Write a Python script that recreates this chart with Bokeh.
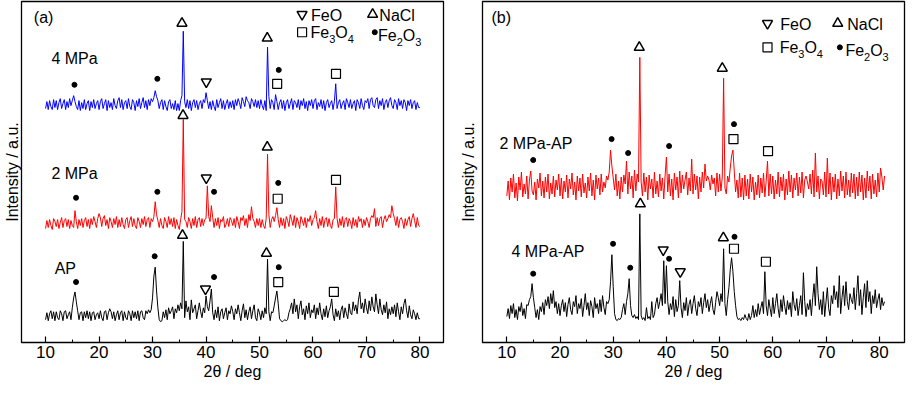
import numpy as np
from bokeh.plotting import figure
from bokeh.layouts import row
from bokeh.models import Range1d, SingleIntervalTicker, FixedTicker
from bokeh.core.properties import value
from bokeh.embed import file_html
from bokeh.resources import INLINE

FONT = "Liberation Sans"

# ---------------- data ----------------
X_START = 10.0
X_STEP = 0.25

# panel (a): intensity deviations (a.u.) around each curve's own baseline
A_4MPA = [
    -4, 3, -5, 4, -2, -5, 5, -3, 4, -5, 2, 6, -4, 1, 5, -5, 3, -3, 6, -1,
    4, 9, 3, -2, -5, 4, -6, 2, -4, 5, -5, 1, 4, -6, 3, -3, 5, -4, 1, 4,
    -5, 3, 6, -4, 1, 5, -6, 4, -3, 2, -5, 6, -1, -4, 4, 7, -3, 5, -5, 2,
    4, -4, 6, -2, -5, 5, 2, -6, 4, -2, 6, -4, 2, 7, -3, 4, -5, 5, -1, 6,
    3, 7, 14, 8, 4, -4, 2, 5, -5, 4, -2, -6, 3, 5, -4, 1, -5, 4, -6, 1,
    -6, 4, 9, 74, 3, -3, 5, -4, 4, -6, 2, 5, -3, 4, -5, 1, 4, -4, 5, 2,
    12, 4, -4, 3, -5, 4, -2, -6, 5, -3, 2, 6, -4, 4, -5, 1, 5, -4, 3, -3,
    4, -5, 5, -1, 6, 2, -4, 7, 3, -2, 8, 4, 2, -4, 6, 3, -2, 5, -3, 4,
    -4, 5, -1, -5, 4, -6, 58, 8, -4, 5, 2, -5, 10, 3, -5, 2, 5, -4, 4, -6,
    2, 5, -4, 1, 6, -5, 4, 2, -3, 5, -5, 4, -1, 6, -4, 3, -6, 4, -1, 5,
    -4, 4, 6, -5, 2, -2, 5, -4, 4, -6, 2, 5, -3, 1, 4, -5, 3, 21, -4, 2,
    5, -4, 1, 4, -5, 6, 2, -3, 5, -4, 1, 4, -6, 5, 2, -4, 6, -1, -5, 4,
    2, 6, -4, 5, 7, -1, -3, 5, 7, -4, 4, -1, 6, -5, 2, 5, -3, 4, 7, -1,
    -4, 5, 2, -5, 6, -1, 4, -4, 5, 2, -6, 4, -1, 5, -4, 2, 4, -5, 2, -3,
    -3,
]
A_2MPA = [
    -5, 3, -4, 4, -2, -6, 5, 2, -3, 4, -5, 1, 6, -4, 3, 5, -3, 4, -5, 3,
    -2, -4, 13, 2, -5, 4, -2, 5, -4, 3, 6, -3, 4, -5, 5, -1, 7, 2, -4, 5,
    10, 6, -3, 5, 8, -2, 4, -5, 6, 2, -4, 5, -1, 7, -4, 4, -3, 6, -1, -5,
    4, 6, -4, 3, 7, -3, 5, -2, -5, 6, 2, -4, 5, -1, 7, -3, 4, 6, -4, 5,
    2, 7, 22, 9, 3, -4, 5, -2, -5, 6, 2, -4, 7, -1, 5, -3, 6, -5, 4, -2,
    -6, 4, 12, 105, 4, 2, -4, 6, 2, -5, 5, -2, 7, -4, 4, 6, -3, 5, -2, 4,
    5, 38, 7, 2, 18, 6, -4, 5, -2, 6, -5, 4, 2, 7, -4, -1, 5, -3, 6, 3,
    -2, 5, -4, 7, 2, -5, 6, 3, 8, -2, 5, -4, 9, 3, 17, 5, 2, -4, 5, -2,
    5, -4, 4, -2, -5, 5, 70, 9, -4, 4, 7, 2, 8, 16, 4, -4, 6, -2, 5, -5,
    7, 3, -3, 9, 4, -2, 8, -4, 6, 2, -5, 7, 3, -2, 6, -4, 5, 2, 8, -2,
    4, 6, 13, 2, -5, 5, -2, 7, -4, 4, 6, -3, 5, -2, -5, 4, 5, 37, 5, -4,
    5, -2, 7, -4, 4, 6, -3, 5, 2, -5, 6, -2, 4, -4, 7, 2, 5, -4, 4, -2,
    6, 2, -4, 5, 8, 6, 15, -3, 6, -2, 5, 7, -4, 4, 8, 2, 5, 9, 6, 18,
    10, 5, -2, 7, -4, 4, 6, 2, -5, 5, -2, 4, 7, -3, 5, 10, 3, -4, 6, -2,
    -3,
]
A_AP = [
    -4, 3, -5, 2, 5, -3, 4, -5, 4, -2, -4, 5, 2, -5, 4, 5, -3, 1, 4, -4,
    8, 18, 24, 14, 5, -4, 3, 4, -5, 4, -2, 5, -3, 4, -5, 3, 4, -4, 1, 3,
    -3, 5, -2, -5, 4, 5, -4, 3, 7, 4, -3, 4, -5, 1, 5, -4, 3, 5, -5, 4,
    -2, -4, 5, 2, -5, 5, -2, 4, -3, 5, -5, 4, 5, -2, -4, 5, 2, 6, 3, 6,
    18, 40, 49, 25, 8, -4, -6, -5, 4, -2, 6, -4, 8, 2, 5, 9, -3, 7, 3, 11,
    5, 13, 7, 75, -2, 15, 4, 9, -4, 16, 3, 7, 11, -3, 5, 13, 4, -2, 8, 3,
    20, 9, 5, 15, 27, 3, -4, 6, -2, 9, -5, 4, 7, -3, 3, 8, -4, 5, 2, 10,
    4, -4, 7, 2, 11, 3, -5, 5, 12, -2, 6, -4, 4, 9, -3, 5, 11, -2, -5, 7,
    3, -4, 5, -2, 8, 2, 57, 4, -5, 4, 3, 10, 18, 25, 12, -3, -5, -6, -5, -4,
    -5, -4, 3, 7, 13, 2, 17, 4, 11, -3, 9, 15, 1, 7, -4, 10, 2, 13, -2, 6,
    3, 11, -3, 8, 1, 13, 2, -4, 7, -1, 10, -2, 5, 9, 17, 1, -5, 7, -1, 5,
    -4, 6, 10, -2, 8, 2, -3, 12, 3, 1, 14, 5, 11, 2, 16, 24, 7, 13, 3, 17,
    8, 2, 15, 5, 19, 9, 4, 22, 11, 2, 17, 6, 1, 11, 3, 14, -3, 7, 1, 9,
    2, 11, -1, 13, 4, -4, 9, 2, 12, 17, 5, -2, 10, 1, -3, 6, 2, -4, 3, -3,
    -3,
]
A_OFFSETS = {"4 MPa": 240, "2 MPa": 120, "AP": 27}

# panel (b)
B_2MPA_AP = [
    -10, 5, -14, 8, -6, 12, -12, 3, -15, 9, -4, 14, -11, 2, -8, 10, -13, 6, 15, -5,
    -9, 4, -14, 7, -2, 13, -10, 5, -12, 9, -6, 12, -13, 3, -8, 10, -11, 6, -4, 12,
    -10, 8, -13, 5, -6, 11, -12, 7, -3, 13, -9, 4, -14, 10, -5, 8, -11, 12, -7, 3,
    -12, 9, -5, 13, -10, 6, -14, 11, -3, 8, -9, 12, -6, 4, -2, 10, 6, 14, 36, 20,
    8, -4, 12, -10, 5, -13, 9, -6, 11, 2, 25, -8, 14, -3, 10, -12, 16, -5, 12, 4,
    129, 4, -10, 13, -6, 9, -14, 11, -3, 7, -12, 14, -8, 5, -11, 12, -5, 8, -13, 10,
    29, -6, 12, -10, 7, -14, 13, -4, 9, -12, 15, -7, 11, -3, 6, 14, -9, 8, -5, 27,
    -8, 12, -4, 10, -13, 9, -6, 14, -2, 22, 5, 10, 6, -4, 11, 2, 8, -10, 13, -6,
    12, -5, 9, 108, -2, -8, 10, 4, 18, 30, 36, 15, -6, 6, -12, 13, -11, 8, -14, 11,
    -10, 7, -13, 12, -6, 9, -14, 4, -9, 11, -12, 8, -7, 13, -11, 5, 25, -10, 12, -8,
    10, -13, 6, -8, 14, -11, 9, -5, 12, -14, 7, -9, 15, -6, 11, -12, 8, -4, 13, -10,
    9, -7, 14, -12, 6, 10, 4, -3, 12, -8, 16, -11, 33, -6, 10, -13, 7, 5, -9, 14,
    -11, 28, -8, 13, -14, 9, -6, 12, -13, 7, -10, 15, -5, 10, -12, 14, -9, 6, -11, 13,
    -7, 12, -13, 9, -10, 14, -6, 11, -14, 8, -12, 15, -5, 10, -13, 12, -8, 6, -11, 13,
    -6, 18, 9, -4, 10,
]
B_4MPA_AP = [
    -5, 3, -7, 6, -2, 8, -6, 2, -8, 5, 0, 9, -4, 3, -7, 7, 6, 12, 15, 28,
    14, 4, -6, 2, -8, 5, 0, 9, -3, 12, 6, 15, 3, 18, 8, 21, 4, 10, -2, 8,
    -4, 6, 12, 0, 9, -5, 7, 14, 2, -3, 10, 5, 16, -2, 8, 3, 13, -5, 6, 18,
    2, 9, -4, 11, 5, -6, 14, 3, 8, -2, 12, 0, 16, 4, -3, 10, 8, 12, 30, 57,
    25, -2, -8, -9, -7, -8, -6, 2, 8, -3, 10, 18, 33, 6, -4, -6, -3, -7, -5, -8,
    98, -4, -8, -6, -9, 4, -7, -5, -8, 10, -6, -3, 8, 14, 3, 10, 18, 6, 51, 8,
    46, 10, -3, 8, 2, 15, -5, 12, 0, 6, 31, 4, -6, 9, 1, 14, -4, 7, 12, -2,
    8, 16, 3, -4, 10, 5, 14, -2, 9, 18, 4, 12, 0, 8, 15, 2, -3, 9, 20, 14,
    6, 18, 10, 63, 8, -4, 12, 24, 42, 54, 40, 20, 6, -5, -8, -7, -9, -6, -8, -3,
    -7, -9, -2, -8, -4, 6, -6, 2, -5, 8, -3, 4, 10, -2, 40, 6, -4, 12, 3, -5,
    14, -2, 8, 18, 3, -6, 12, 0, 16, 5, -3, 11, 2, 9, -5, 20, 7, 1, 13, -4,
    6, 16, -3, 39, 10, -5, 8, 2, 12, -4, 14, 28, 6, 45, 18, 2, 12, -3, 20, -5,
    10, 24, 3, -4, 16, 8, 26, 12, 20, 4, 36, -2, 14, 26, 6, 30, 10, 2, 18, 12,
    8, 24, 2, 18, 36, 6, 22, -3, 14, 28, 4, 31, 10, 20, -2, 16, 8, 22, 4, 12,
    18, 2, 14, 6, 10,
]
B_OFFSETS = {"2 MPa-AP": 157, "4 MPa-AP": 31}

# phase markers above the peaks
A_MARK_PHASE = ["Fe2O3", "Fe2O3", "NaCl", "FeO", "NaCl", "Fe2O3", "Fe3O4", "Fe3O4",
                "Fe2O3", "Fe2O3", "NaCl", "FeO", "Fe2O3", "NaCl", "Fe2O3", "Fe3O4", "Fe3O4",
                "Fe2O3", "Fe2O3", "NaCl", "FeO", "Fe2O3", "NaCl", "Fe2O3", "Fe3O4", "Fe3O4"]
A_MARK_X = [15.4, 30.9, 35.5, 40.05, 51.45, 53.6, 53.3, 64.3,
            15.7, 30.9, 35.7, 40.05, 41.5, 51.45, 53.5, 53.4, 64.3,
            15.7, 30.4, 35.6, 39.9, 41.5, 51.3, 53.6, 53.5, 63.9]
A_MARK_Y = [260, 266, 322, 263, 307, 275, 261, 271,
            146, 152, 229, 166, 152, 197, 161, 145, 164,
            61, 87, 108, 54, 66, 90, 76, 61, 51]

B_MARK_PHASE = ["Fe2O3", "Fe2O3", "Fe2O3", "NaCl", "Fe2O3", "NaCl", "Fe2O3", "Fe3O4", "Fe3O4",
                "Fe2O3", "Fe2O3", "Fe2O3", "NaCl", "FeO", "Fe2O3", "FeO", "NaCl", "Fe2O3", "Fe3O4", "Fe3O4"]
B_MARK_X = [14.96, 29.7, 32.8, 34.9, 40.5, 50.5, 52.7, 52.6, 59.1,
            14.96, 29.97, 33.2, 35.1, 39.4, 40.5, 42.6, 50.7, 52.8, 52.7, 58.7]
B_MARK_Y = [183, 204, 190, 296, 197, 275, 219, 204, 192,
            69, 99, 75, 139, 93, 84, 71, 105, 106, 94, 81]

PHASE_STYLE = {
    "NaCl": dict(marker="triangle", size=10, fill_color=None, line_color="black", line_width=1.5),
    "FeO": dict(marker="inverted_triangle", size=10, fill_color=None, line_color="black", line_width=1.5),
    "Fe3O4": dict(marker="square", size=9, fill_color=None, line_color="black", line_width=1.2),
    "Fe2O3": dict(marker="circle", size=5, fill_color="black", line_color="black", line_width=1),
}


def make_fig(width, xr, yr, bl, br, ylab_standoff):
    p = figure(width=width, height=382, x_range=Range1d(*xr), y_range=Range1d(*yr),
               output_backend="svg", toolbar_location=None,
               min_border_left=bl, min_border_right=br, min_border_top=1, min_border_bottom=0)
    p.background_fill_color = "white"
    p.border_fill_color = "white"
    p.outline_line_color = "black"
    p.outline_line_width = 1.3
    p.outline_line_alpha = 1.0
    p.xgrid.visible = False
    p.ygrid.visible = False
    xa = p.xaxis[0]
    xa.ticker = SingleIntervalTicker(interval=10, num_minor_ticks=2)
    xa.axis_line_color = None
    xa.major_tick_in = 6
    xa.major_tick_out = 0
    xa.minor_tick_in = 3
    xa.minor_tick_out = 0
    xa.major_tick_line_color = "black"
    xa.minor_tick_line_color = "black"
    xa.major_tick_line_width = 1.2
    xa.major_label_text_font = FONT
    xa.major_label_text_font_size = "17px"
    xa.major_label_text_color = "black"
    xa.major_label_text_line_height = 1.0
    xa.major_label_standoff = 3
    xa.axis_label = "2θ / deg"
    xa.axis_label_text_font = FONT
    xa.axis_label_text_font_size = "16px"
    xa.axis_label_text_font_style = "normal"
    xa.axis_label_text_color = "black"
    xa.axis_label_text_line_height = 1.0
    xa.axis_label_standoff = 2
    ya = p.yaxis[0]
    ya.ticker = FixedTicker(ticks=[])
    ya.axis_line_color = None
    ya.major_tick_in = 0
    ya.major_tick_out = 0
    ya.minor_tick_in = 0
    ya.minor_tick_out = 0
    ya.major_label_standoff = 0
    ya.axis_label = "Intensity / a.u."
    ya.axis_label_text_font = FONT
    ya.axis_label_text_font_size = "16px"
    ya.axis_label_text_font_style = "normal"
    ya.axis_label_text_color = "black"
    ya.axis_label_standoff = ylab_standoff
    return p


def txt(p, x, y, s, size="16px", align="left", dx=0, dy=0):
    p.text(x=[x], y=[y], text=[s], text_font=value(FONT), text_font_size=value(size),
           text_align=align, text_baseline="middle", text_color="black",
           x_offset=dx, y_offset=dy)


def formula(p, x, y, a, n1, b, n2):
    # e.g. Fe3O4 drawn with real subscripts
    txt(p, x, y, a)
    txt(p, x, y, n1, size="11px", dx=18.7, dy=7)
    txt(p, x, y, b, dx=24.8)
    txt(p, x, y, n2, size="11px", dx=37.2, dy=7)


def draw_marks(p, phases, xs, ys):
    for ph, st in PHASE_STYLE.items():
        mx = [x for q, x in zip(phases, xs) if q == ph]
        my = [y for q, y in zip(phases, ys) if q == ph]
        if mx:
            p.scatter(mx, my, **st)


def legend(p, x1, x2, y1, y2, y2b, dxt):
    p.scatter([x1], [y1], **PHASE_STYLE["FeO"])
    txt(p, x1 + dxt, y1 - 1, "FeO")
    p.scatter([x2], [y1], **PHASE_STYLE["NaCl"])
    txt(p, x2 + dxt * 0.75, y1 - 1, "NaCl")
    p.scatter([x1], [y2], **PHASE_STYLE["Fe3O4"])
    formula(p, x1 + dxt * 0.95, y2, "Fe", "3", "O", "4")
    p.scatter([x2 + 0.4], [y2], **PHASE_STYLE["Fe2O3"])
    formula(p, x2 + dxt * 0.6, y2b, "Fe", "2", "O", "3")


# ---------------- panel (a) ----------------
pa = make_fig(452, (5.5, 84.4), (0, 344), 19, 9, 1)
for series, name, color in [(A_4MPA, "4 MPa", "#0000ff"), (A_2MPA, "2 MPa", "#ff0000"), (A_AP, "AP", "black")]:
    xs = X_START + X_STEP * np.arange(len(series))
    pa.line(xs, np.array(series) + A_OFFSETS[name], line_color=color, line_width=1)
draw_marks(pa, A_MARK_PHASE, A_MARK_X, A_MARK_Y)
txt(pa, 11.1, 286, "4 MPa")
txt(pa, 11.1, 170, "2 MPa")
txt(pa, 11.7, 75, "AP")
txt(pa, 7.8, 328, "(a)")
legend(pa, 57.96, 71.15, 331, 313, 310, 1.67)

# ---------------- panel (b) ----------------
pb = make_fig(457, (5.43, 84.75), (0, 342), 30, 5, 6)
for series, name, color in [(B_2MPA_AP, "2 MPa-AP", "#ff0000"), (B_4MPA_AP, "4 MPa-AP", "black")]:
    xs = X_START + X_STEP * np.arange(len(series))
    pb.line(xs, np.array(series) + B_OFFSETS[name], line_color=color, line_width=1)
draw_marks(pb, B_MARK_PHASE, B_MARK_X, B_MARK_Y)
txt(pb, 8.63, 200, "2 MPa-AP")
txt(pb, 10.88, 91, "4 MPa-AP")
txt(pb, 7.12, 326, "(b)")
legend(pb, 59.0, 72.2, 320, 296, 293, 2.4)

layout = row(pa, pb)
open("out.html", "w").write(file_html(layout, INLINE))
